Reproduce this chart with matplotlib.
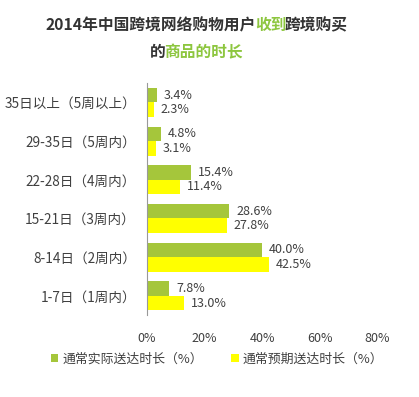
import numpy as np
import matplotlib
matplotlib.use('Agg')
import matplotlib.pyplot as plt

plt.rcParams['font.family'] = ['Noto Sans CJK SC', 'DejaVu Sans']

categories = ['1-7日（1周内）', '8-14日（2周内）', '15-21日（3周内）',
              '22-28日（4周内）', '29-35日（5周内）', '35日以上（5周以上）']
actual = [7.8, 40.0, 28.6, 15.4, 4.8, 3.4]
expected = [13.0, 42.5, 27.8, 11.4, 3.1, 2.3]
series_names = ['通常实际送达时长（%）', '通常预期送达时长（%）']
xticks = [0, 20, 40, 60, 80]

green = '#a5c63b'
yellow = '#ffff00'
title_green = '#8dc63f'
dark = '#333333'
text_gray = '#404040'

fig = plt.figure(figsize=(4.19, 3.97), dpi=100)
ax = fig.add_axes([0.351, 0.206, 0.549, 0.585])

y = np.arange(len(categories))
h = 0.375
b1 = ax.barh(y + h / 2, actual, height=h, color=green, label=series_names[0])
b2 = ax.barh(y - h / 2, expected, height=h, color=yellow, label=series_names[1])

for bars, vals in [(b1, actual), (b2, expected)]:
    for bar, v in zip(bars, vals):
        ax.annotate(f'{v:.1f}%', (bar.get_width(), bar.get_y() + bar.get_height() / 2),
                    xytext=(5, 0), textcoords='offset points', va='center', ha='left',
                    fontsize=9, color=text_gray)

ax.set_xlim(0, 80)
ax.set_ylim(-0.5, 5.5)
ax.set_yticks(y)
ax.set_yticklabels(categories, fontsize=9.8, color=text_gray)
ax.set_xticks(xticks)
ax.set_xticklabels([f'{t}%' for t in xticks], fontsize=9, color=text_gray)
ax.tick_params(length=0)
ax.tick_params(axis='x', pad=12)
ax.tick_params(axis='y', pad=8)
for s in ['top', 'right', 'bottom']:
    ax.spines[s].set_visible(False)
ax.spines['left'].set_color('#999999')

leg = ax.legend(loc='center', bbox_to_anchor=(0.304, -0.19),
                ncol=2, frameon=False, fontsize=9.3, handlelength=0.6, handleheight=0.6,
                handletextpad=0.3, columnspacing=2.2, labelcolor=text_gray)

# title with coloured pieces, centred manually
renderer = fig.canvas.get_renderer()


def colored_line(pieces, ypos, xcenter=0.468, squeeze=1.5):
    texts = [fig.text(0, ypos, s, color=c, fontsize=11.3, fontweight='bold', va='center')
             for s, c in pieces]
    widths = [(t.get_window_extent(renderer).width - squeeze) / fig.bbox.width for t in texts]
    x = xcenter - sum(widths) / 2
    for t, w in zip(texts, widths):
        t.set_x(x)
        x += w


colored_line([('2014年中国跨境网络购物用户', dark), ('收到', title_green), ('跨境购买', dark)], 1 - 25 / 397)
colored_line([('的', dark), ('商品的时长', title_green)], 1 - 52 / 397, xcenter=0.467)

fig.savefig('out.png', dpi=100, facecolor='white')
